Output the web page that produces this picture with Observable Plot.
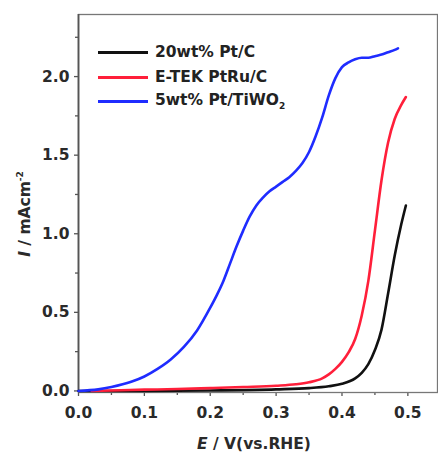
<!DOCTYPE html>
<html><head><meta charset="utf-8">
<script src="https://cdn.jsdelivr.net/npm/d3@7"></script>
<script src="https://cdn.jsdelivr.net/npm/@observablehq/plot@0.6"></script>
<style>
body{margin:0;background:#fff;}
#wrap{position:relative;width:438px;height:454px;font-family:"DejaVu Sans",sans-serif;}
.leg{position:absolute;left:98px;font-weight:bold;font-size:15.5px;color:#222;display:flex;align-items:center;height:20px;}
.leg span.l{display:inline-block;width:50px;height:3px;margin-right:7px;}
</style></head><body>
<div id="wrap"></div>
<script>
const seriesNames = ["20wt% Pt/C", "E-TEK PtRu/C", "5wt% Pt/TiWO2"];
const colors = ["#111111", "#ff1f3a", "#1f2cff"];
const xTicks = [0.0, 0.1, 0.2, 0.3, 0.4, 0.5];
const yTicks = [0.0, 0.5, 1.0, 1.5, 2.0];
const xMinor = [0.05, 0.15, 0.25, 0.35, 0.45];
const yMinor = [0.25, 0.75, 1.25, 1.75, 2.25];

const eBlack = [0.0, 0.1, 0.2, 0.3, 0.35, 0.38, 0.40, 0.42, 0.43, 0.44, 0.45, 0.46, 0.47, 0.48, 0.49, 0.497];
const iBlack = [0.0, 0.0, 0.003, 0.01, 0.018, 0.03, 0.045, 0.08, 0.115, 0.17, 0.26, 0.39, 0.62, 0.86, 1.06, 1.18];

const eRed = [0.02, 0.05, 0.1, 0.15, 0.2, 0.25, 0.3, 0.33, 0.35, 0.37, 0.38, 0.39, 0.40, 0.41, 0.42, 0.43, 0.44, 0.45, 0.46, 0.47, 0.48, 0.49, 0.497];
const iRed = [0.0, 0.003, 0.008, 0.012, 0.018, 0.025, 0.033, 0.042, 0.055, 0.08, 0.105, 0.14, 0.185, 0.245, 0.33, 0.48, 0.70, 1.02, 1.34, 1.58, 1.73, 1.82, 1.87];

const eBlue = [0.0, 0.03, 0.05, 0.08, 0.10, 0.12, 0.14, 0.16, 0.18, 0.20, 0.21, 0.22, 0.23, 0.24, 0.25, 0.26, 0.27, 0.28, 0.29, 0.30, 0.31, 0.32, 0.33, 0.34, 0.35, 0.36, 0.37, 0.38, 0.39, 0.40, 0.41, 0.42, 0.43, 0.44, 0.45, 0.46, 0.47, 0.48, 0.485];
const iBlue = [0.0, 0.01, 0.025, 0.058, 0.092, 0.14, 0.20, 0.28, 0.385, 0.53, 0.61, 0.70, 0.81, 0.92, 1.02, 1.11, 1.18, 1.23, 1.27, 1.30, 1.33, 1.36, 1.40, 1.45, 1.52, 1.62, 1.74, 1.88, 1.99, 2.06, 2.09, 2.11, 2.12, 2.12, 2.13, 2.14, 2.155, 2.17, 2.18];

const rows = [];
[[eBlack,iBlack],[eRed,iRed],[eBlue,iBlue]].forEach(([E,I],k)=>{
  E.forEach((e,j)=>rows.push({s:seriesNames[k], e, i:I[j]}));
});

const chart = Plot.plot({
  width: 438, height: 454,
  marginLeft: 78, marginRight: 1, marginTop: 14, marginBottom: 62,
  style: {fontFamily: '"DejaVu Sans", sans-serif', fontSize: "15.5px", fontWeight: "bold", color: "#2a2a2a", background: "#fff"},
  x: {domain: [0, 0.545]},
  y: {domain: [-0.01, 2.395]},
  color: {domain: seriesNames, range: colors},
  marks: [
    Plot.axisX({ticks: xTicks, tickFormat: d3.format(".1f"), tickSize: 4, tickPadding: 10, label: null, stroke: "#555", strokeWidth: 1.3}),
    Plot.axisX({ticks: xMinor, tickSize: 3, text: null, label: null, stroke: "#555", strokeWidth: 1.3}),
    Plot.axisY({ticks: yTicks, tickFormat: d3.format(".1f"), tickSize: 4, tickPadding: 5, label: null, stroke: "#555", strokeWidth: 1.3}),
    Plot.axisY({ticks: yMinor, tickSize: 3, text: null, label: null, stroke: "#555", strokeWidth: 1.3}),
    Plot.frame({stroke: "#777", strokeWidth: 1.3}),
    Plot.ruleX([0], {stroke: "#555", strokeWidth: 1.8}),
    Plot.line(rows, {x: "e", y: "i", z: "s", stroke: "s", strokeWidth: 2.6, curve: "monotone-x"})
  ]
});
const wrap = document.getElementById("wrap");
wrap.appendChild(chart);

const svg = d3.select(chart);
const yl = svg.append("text")
  .attr("transform", "translate(30,214) rotate(-90)")
  .attr("text-anchor", "middle")
  .attr("font-size", "15.5px").attr("font-weight", "bold").attr("fill", "#2a2a2a");
yl.append("tspan").attr("font-style", "italic").text("I");
yl.append("tspan").text(" / mAcm");
yl.append("tspan").attr("font-size", "9px").attr("dy", "-7").text("-2");

const xl = svg.append("text")
  .attr("x", 254).attr("y", 449)
  .attr("text-anchor", "middle")
  .attr("font-size", "15.5px").attr("font-weight", "bold").attr("fill", "#2a2a2a");
xl.append("tspan").attr("font-style", "italic").text("E");
xl.append("tspan").text(" / V(vs.RHE)");

const legTops = [42, 67, 91];
seriesNames.forEach((n,k)=>{
  const d = document.createElement("div");
  d.className = "leg";
  d.style.top = legTops[k] + "px";
  const l = document.createElement("span"); l.className = "l"; l.style.background = colors[k];
  d.appendChild(l);
  const t = document.createElement("span");
  if (n.endsWith("WO2")) { t.innerHTML = "5wt% Pt/TiWO<sub style='font-size:9px'>2</sub>"; }
  else t.textContent = n;
  d.appendChild(t);
  wrap.appendChild(d);
});
</script>
</body></html>
